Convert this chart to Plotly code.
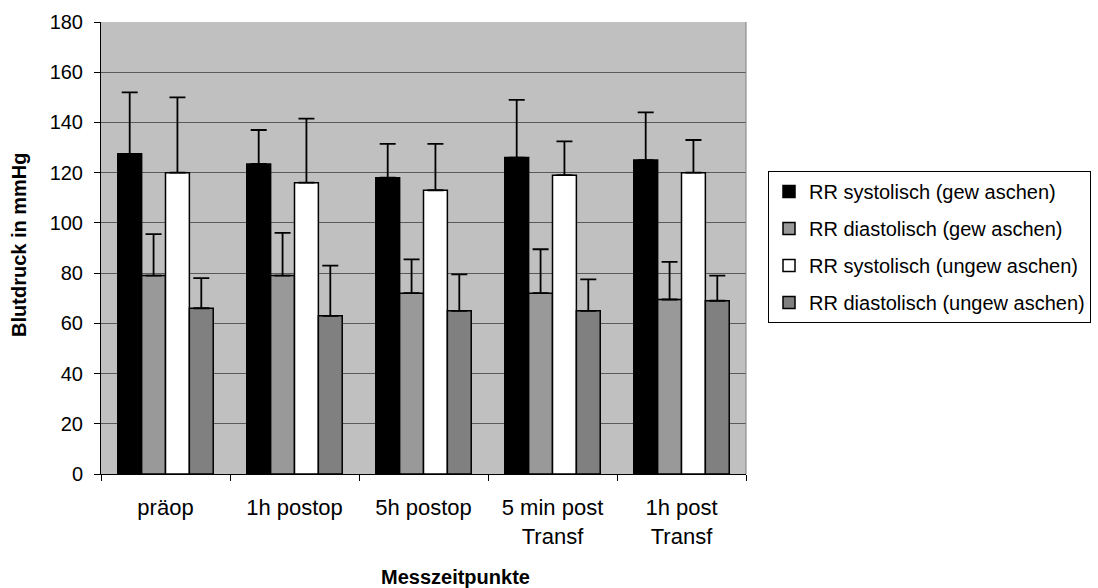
import plotly.graph_objects as go

categories = ["präop", "1h postop", "5h postop", "5 min post<br>Transf", "1h post<br>Transf"]

series_names = [
    "RR systolisch (gew aschen)",
    "RR diastolisch (gew aschen)",
    "RR systolisch (ungew aschen)",
    "RR diastolisch (ungew aschen)",
]
sys_gew = [127.5, 123.5, 118, 126, 125]
sys_gew_sd = [24.5, 13.5, 13.5, 23, 19]
dia_gew = [79, 79, 72, 72, 69.5]
dia_gew_sd = [16.5, 17, 13.5, 17.5, 15]
sys_ungew = [120, 116, 113, 119, 120]
sys_ungew_sd = [30, 25.5, 18.5, 13.5, 13]
dia_ungew = [66, 63, 65, 65, 69]
dia_ungew_sd = [12, 20, 14.5, 12.5, 10]

colors = ["#000000", "#999999", "#FFFFFF", "#808080"]
values = [sys_gew, dia_gew, sys_ungew, dia_ungew]
sds = [sys_gew_sd, dia_gew_sd, sys_ungew_sd, dia_ungew_sd]

FONT = "Arial, Liberation Sans, sans-serif"

fig = go.Figure()
for i, (name, vals, sd, col) in enumerate(zip(series_names, values, sds, colors)):
    fig.add_trace(go.Bar(
        x=categories, y=vals, name=name,
        legendgroup=f"g{i}",
        marker=dict(color=col, line=dict(color="#000000", width=1.5)),
        error_y=dict(type="data", array=sd, arrayminus=[0] * len(sd), symmetric=False,
                     color="#000000", thickness=1.8, width=8),
    ))

fig.update_layout(
    width=1098, height=588,
    margin=dict(l=101, r=352, t=22, b=114),
    paper_bgcolor="white", plot_bgcolor="#C0C0C0",
    barmode="group", bargap=0.26, bargroupgap=0,
    font=dict(family=FONT, size=20, color="#000000"),
    showlegend=True,
    legend=dict(
        xref="container", yref="container",
        x=768 / 1098, y=1 - 171 / 588, xanchor="left", yanchor="top",
        bgcolor="white", bordercolor="#000000", borderwidth=1,
        font=dict(family=FONT, size=20, color="#000000"),
        traceorder="grouped", tracegroupgap=8,
    ),
    xaxis=dict(
        type="category", showline=True, linecolor="#000000", linewidth=1,
        ticks="outside", tickson="boundaries", ticklen=6, tickcolor="#000000",
        tickfont=dict(family=FONT, size=22), ticklabelstandoff=14,
        showgrid=False, mirror=False, automargin=False,
    ),
    yaxis=dict(
        range=[0, 180], dtick=20, showline=True, linecolor="#000000", linewidth=1,
        ticks="outside", ticklen=6, tickcolor="#000000",
        tickfont=dict(family=FONT, size=20), ticklabelstandoff=7,
        showgrid=True, gridcolor="#5A5A5A", gridwidth=1, zeroline=False,
        automargin=False,
    ),
    annotations=[
        dict(text="<b>Messzeitpunkte</b>", xref="paper", yref="paper",
             x=0.55, y=-0.228, xanchor="center", yanchor="middle", showarrow=False,
             font=dict(family=FONT, size=20)),
        dict(text="<b>Blutdruck in mmHg</b>", xref="paper", yref="paper",
             x=-0.127, y=0.507, xanchor="center", yanchor="middle", showarrow=False,
             textangle=-90, font=dict(family=FONT, size=20)),
    ],
    shapes=[
        dict(type="line", xref="paper", yref="paper", x0=1, x1=1, y0=0, y1=1,
             line=dict(color="#808080", width=1)),
    ],
)

fig.write_html("out.html", config={"displayModeBar": False},
               post_script="document.body.style.margin='0px';")
